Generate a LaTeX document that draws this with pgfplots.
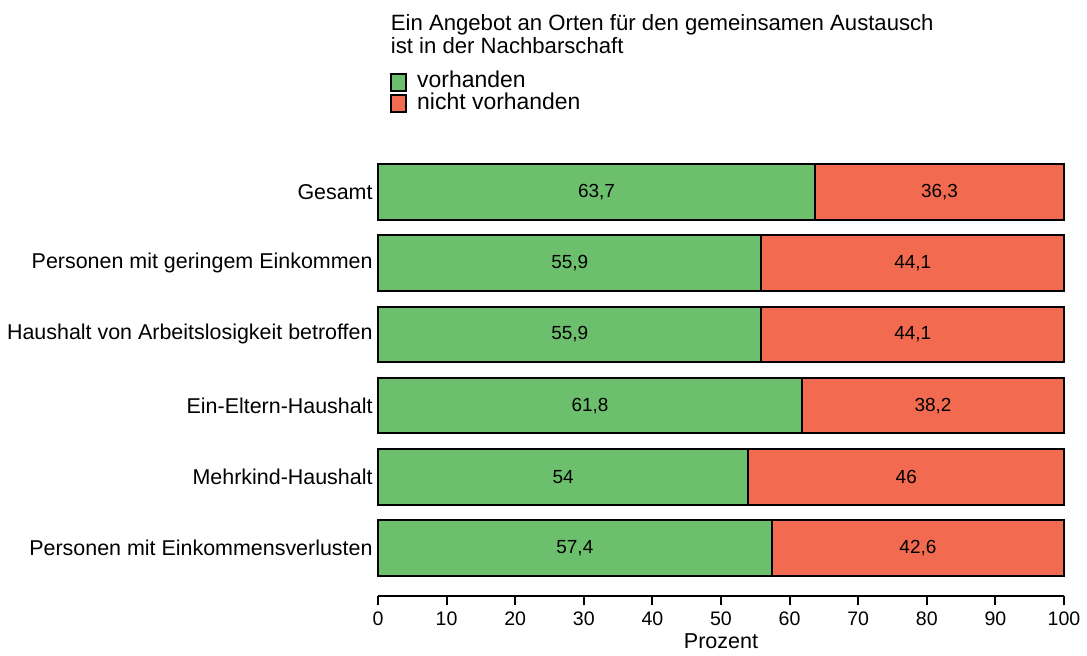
\documentclass[border=0pt]{standalone}
\usepackage{fontspec}
\setmainfont{Liberation Sans}
\usepackage{pgfplots}
\usepackage{pgfplotstable}
\pgfplotsset{compat=1.18}
\definecolor{gruen}{RGB}{108,191,108}
\definecolor{rot}{RGB}{242,107,80}
\pgfplotstableread{
y a b la lb ma mb
5 63.7 36.3 63,7 36,3 31.85 81.85
4 55.9 44.1 55,9 44,1 27.95 77.95
3 55.9 44.1 55,9 44,1 27.95 77.95
2 61.8 38.2 61,8 38,2 30.9 80.9
1 54 46 54 46 27 77
0 57.4 42.6 57,4 42,6 28.7 78.7
}\data
\begin{document}
\begin{tikzpicture}
\pgfplotsset{
  common/.style={x=3.44pt, y=35.7pt, xmin=0, xmax=100, ymin=-0.68, ymax=5.45},
  boxleg/.style={legend image code/.code={\draw[##1, line width=1pt] (0pt,-4.2pt) rectangle (7.5pt,4.2pt);}}
}
\begin{axis}[name=main, common,
  xbar stacked, bar width=0.78,
  axis x line*=bottom, axis y line*=left,
  y axis line style={draw=none},
  ytick={0,...,5},
  yticklabels={Personen mit Einkommensverlusten, Mehrkind-Haushalt, Ein-Eltern-Haushalt, Haushalt von Arbeitslosigkeit betroffen, Personen mit geringem Einkommen, Gesamt},
  ytick style={draw=none},
  xtick={0,10,...,100},
  tick align=outside, major tick length=4.5pt,
  x axis line style={line width=1pt, black},
  xtick style={line width=1pt, black},
  x tick label style={font=\fontsize{9.8}{11}\selectfont, yshift=0.5pt},
  y tick label style={font=\fontsize{10.75}{13}\selectfont, inner sep=0pt, xshift=2pt},
  /pgf/number format/assume math mode=true,
  xlabel={Prozent}, xlabel style={font=\fontsize{10.8}{13}\selectfont, yshift=2.5pt},
  clip=false,
  legend style={draw=none, fill=none, at={(0,1)}, anchor=north west, xshift=6pt, yshift=44.5pt, inner sep=0pt,
    nodes={inner sep=0pt, text height=8.2pt, text depth=2.5pt, font=\fontsize{11.5}{13}\selectfont}},
  legend cell align=left,
  boxleg,
]
\addplot[fill=gruen, draw=black, line width=1pt, boxleg] table[x=a, y=y] {\data};
\addplot[fill=rot, draw=black, line width=1pt, boxleg] table[x=b, y=y] {\data};
\legend{\hspace{5pt}vorhanden, \hspace{5pt}nicht vorhanden}
\end{axis}
\begin{axis}[common, hide axis, clip=false]
\addplot[only marks, mark=none, nodes near coords, point meta=explicit symbolic,
  every node near coord/.append style={anchor=center, font=\fontsize{9.5}{11}\selectfont}]
  table[x=ma, y=y, meta=la] {\data};
\addplot[only marks, mark=none, nodes near coords, point meta=explicit symbolic,
  every node near coord/.append style={anchor=center, font=\fontsize{9.5}{11}\selectfont}]
  table[x=mb, y=y, meta=lb] {\data};
\end{axis}
\node[anchor=base west, inner sep=0pt, font=\fontsize{11.1}{13}\selectfont] at ([xshift=6.3pt, yshift=65pt]main.north west) {Ein Angebot an Orten für den gemeinsamen Austausch};
\node[anchor=base west, inner sep=0pt, font=\fontsize{11.1}{13}\selectfont] at ([xshift=6.3pt, yshift=53.3pt]main.north west) {ist in der Nachbarschaft};
\path[use as bounding box] ([xshift=-189.5pt, yshift=-28.5pt]main.south west) rectangle ([xshift=10pt, yshift=80.2pt]main.north east);
\end{tikzpicture}
\end{document}
